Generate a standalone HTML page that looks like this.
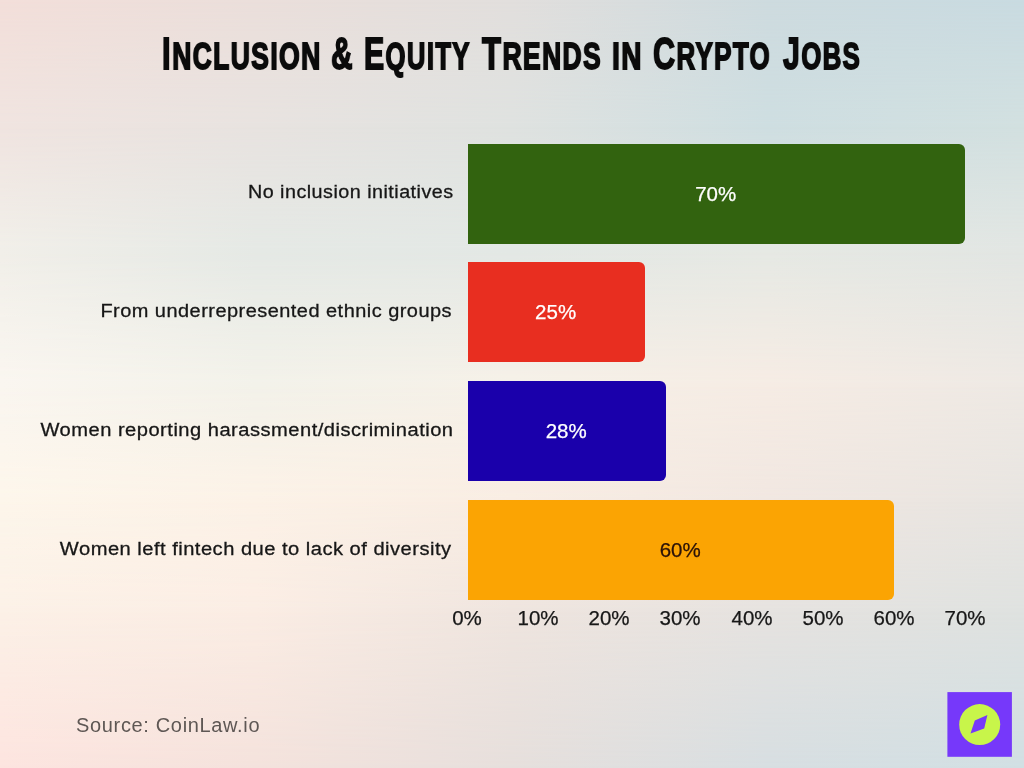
<!DOCTYPE html>
<html lang="en">
<head>
<meta charset="utf-8">
<title>Inclusion &amp; Equity Trends in Crypto Jobs</title>
<style>
html,body{margin:0;padding:0;}
body{width:1024px;height:768px;overflow:hidden;position:relative;background:#ece6e1;
  font-family:"Liberation Sans",sans-serif;color:#161616;}
/* ---------- background mesh: row layers blended vertically ---------- */
.bg{position:absolute;left:0;top:0;width:1024px;height:768px;overflow:hidden;}
.bg i{position:absolute;left:0;top:0;width:1024px;height:768px;display:block;}
.r0{background:linear-gradient(to right,#f3dfda 0,#ebdfdb 25%,#e2dfdd 50%,#cedbdf 75%,#c9dbe1 100%);}
.r1{background:linear-gradient(to right,#f0e4e0 0,#e8e3e0 25%,#dfe2e0 50%,#cedee1 75%,#d2e0e0 100%);
  -webkit-mask-image:linear-gradient(to bottom,transparent 0,#000 125px);mask-image:linear-gradient(to bottom,transparent 0,#000 125px);}
.r2{background:linear-gradient(to right,#f1efe9 0,#e5e9e5 25%,#e3e8e5 50%,#e6e9e4 75%,#e2e6e3 100%);
  -webkit-mask-image:linear-gradient(to bottom,transparent 125px,#000 250px);mask-image:linear-gradient(to bottom,transparent 125px,#000 250px);}
.r3{background:linear-gradient(to right,#faf6f0 0,#f3f2ea 25%,#f6f1e8 50%,#f6ece4 75%,#eee9e4 100%);
  -webkit-mask-image:linear-gradient(to bottom,transparent 250px,#000 385px);mask-image:linear-gradient(to bottom,transparent 250px,#000 385px);}
.r4{background:linear-gradient(to right,#fdf6eb 0,#fcf2e7 25%,#f9ede3 50%,#f1e7e1 75%,#e8e5e1 100%);
  -webkit-mask-image:linear-gradient(to bottom,transparent 385px,#000 500px);mask-image:linear-gradient(to bottom,transparent 385px,#000 500px);}
.r5{background:linear-gradient(to right,#fcf1e7 0,#fbede4 25%,#efe5df 50%,#e6e3e0 75%,#dfe2e0 100%);
  -webkit-mask-image:linear-gradient(to bottom,transparent 500px,#000 610px);mask-image:linear-gradient(to bottom,transparent 500px,#000 610px);}
.r6{background:linear-gradient(to right,#fde4df 0,#f4e2dc 25%,#e6dfdc 50%,#d7dee1 75%,#d1dfe3 100%);
  -webkit-mask-image:linear-gradient(to bottom,transparent 610px,#000 768px);mask-image:linear-gradient(to bottom,transparent 610px,#000 768px);}

/* ---------- title ---------- */
.title{position:absolute;left:0;top:0;width:1024px;height:100px;margin:0;font-size:36.9px;font-weight:bold;color:#0b0b0b;}
.title span{will-change:transform;position:absolute;top:26.4px;white-space:nowrap;line-height:56px;transform-origin:0 0;text-transform:uppercase;
  letter-spacing:2px;-webkit-text-stroke:1.8px #0b0b0b;}
.title b{font-size:43.6px;font-weight:bold;}

/* ---------- chart ---------- */
.bar{position:absolute;left:467.7px;height:100.2px;border-radius:0 6px 6px 0;}
.b1{top:143.5px;width:497.3px;background:#32630f;}
.b2{top:262.3px;width:177.2px;background:#e82e20;}
.b3{top:381.1px;width:198.3px;background:#1a00ab;}
.b4{top:499.8px;width:426.3px;background:#fba403;}
.val{will-change:transform;position:absolute;left:-0.7px;top:0;width:100%;height:100%;text-align:center;line-height:99px;font-size:20.5px;color:#fff;-webkit-text-stroke:.25px #fff;}
.b4 .val{color:#2a1208;-webkit-text-stroke:.25px #2a1208;}
.lab{will-change:transform;position:absolute;right:571.5px;white-space:nowrap;font-size:18.8px;line-height:24px;color:#171717;text-align:right;letter-spacing:.45px;-webkit-text-stroke:.3px #171717;transform-origin:100% 50%;}
.tick{will-change:transform;position:absolute;top:606px;width:80px;margin-left:-40.7px;text-align:center;font-size:20.5px;line-height:24px;color:#171717;-webkit-text-stroke:.25px #171717;}
.src{will-change:transform;position:absolute;left:76px;top:713px;font-size:20px;line-height:24px;letter-spacing:0.66px;color:#5e5754;white-space:nowrap;}
.logo{position:absolute;left:947px;top:692px;width:66px;height:66px;}
</style>
</head>
<body>
<div class="bg"><i class="r0"></i><i class="r1"></i><i class="r2"></i><i class="r3"></i><i class="r4"></i><i class="r5"></i><i class="r6"></i></div>

<h1 class="title">
  <span style="left:162.27px;transform:scaleX(0.7161)"><b>I</b>nclusion</span>
  <span style="left:331.01px;transform:scaleX(0.6867)"><b>&amp;</b></span>
  <span style="left:364.31px;transform:scaleX(0.694)"><b>E</b>quity</span>
  <span style="left:482.4px;transform:scaleX(0.7152)"><b>T</b>rends</span>
  <span style="left:612.29px;top:28.7px;transform:scaleX(0.7543)">in</span>
  <span style="left:652.9px;transform:scaleX(0.7006)"><b>C</b>rypto</span>
  <span style="left:782.9px;transform:scaleX(0.6963)"><b>J</b>obs</span>
</h1>

<div class="lab" style="top:180.4px;right:570.75px;transform:scaleX(1.0515)">No inclusion initiatives</div>
<div class="lab" style="top:299.4px;right:571.54px;transform:scaleX(1.0623)">From underrepresented ethnic groups</div>
<div class="lab" style="top:418.4px;right:570.8px;transform:scaleX(1.0714)">Women reporting harassment/discrimination</div>
<div class="lab" style="top:537.4px;right:572.4px;transform:scaleX(1.0715)">Women left fintech due to lack of diversity</div>

<div class="bar b1"><div class="val">70%</div></div>
<div class="bar b2"><div class="val">25%</div></div>
<div class="bar b3"><div class="val">28%</div></div>
<div class="bar b4"><div class="val">60%</div></div>

<div class="tick" style="left:468px">0%</div>
<div class="tick" style="left:539px">10%</div>
<div class="tick" style="left:610.1px">20%</div>
<div class="tick" style="left:681.1px">30%</div>
<div class="tick" style="left:752.2px">40%</div>
<div class="tick" style="left:823.2px">50%</div>
<div class="tick" style="left:894.2px">60%</div>
<div class="tick" style="left:965.3px">70%</div>

<div class="src">Source: CoinLaw.io</div>

<svg class="logo" viewBox="0 0 66 66">
  <rect x="0.4" y="0.1" width="64.5" height="64.7" fill="#7638fa"/>
  <circle cx="32.7" cy="32.6" r="20.5" fill="#c8f54a"/>
  <polygon points="40.4,23.1 37.2,36.5 23.5,41.5 27.8,28.5" fill="#7638fa"/>
</svg>
</body>
</html>
